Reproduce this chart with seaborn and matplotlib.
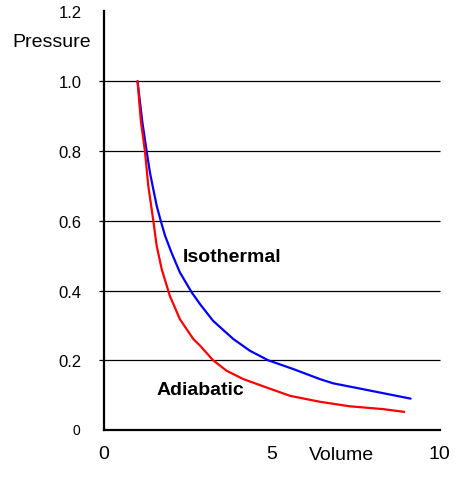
import pandas as pd
import matplotlib
matplotlib.use("Agg")
import matplotlib.pyplot as plt
import seaborn as sns

# Valores
vol_iso = [1.00, 1.14, 1.27, 1.37, 1.47, 1.57, 1.69, 1.82, 2.01, 2.26, 2.61, 2.86, 3.25, 3.85, 4.35,
           4.89, 5.63, 6.43, 6.82, 7.82, 9.13]
pres_iso = [1.00, 0.885, 0.80, 0.738, 0.69, 0.643, 0.60, 0.557, 0.509, 0.452, 0.395, 0.361, 0.313, 0.261, 0.227,
            0.20, 0.175, 0.146, 0.134, 0.115, 0.090]

vol_adi = [1.00, 1.10, 1.22, 1.32, 1.47, 1.57, 1.72, 1.96, 2.26, 2.66, 2.86, 3.25, 3.65, 4.15,
           4.84, 5.54, 6.43, 7.32, 8.31, 8.94]
pres_adi = [1.00, 0.885, 0.80, 0.70, 0.60, 0.528, 0.461, 0.385, 0.318, 0.261, 0.242, 0.20, 0.170, 0.146,
            0.122, 0.098, 0.081, 0.068, 0.060, 0.052]

grid_vals = [0.2, 0.4, 0.6, 0.8, 1.0]
y_ticks = [0.2, 0.4, 0.6, 0.8, 1.0, 1.2]
x_ticks = [0, 5, 10]

df = pd.concat([
    pd.DataFrame({"Volume": vol_iso, "Pressure": pres_iso, "curva": "Isothermal"}),
    pd.DataFrame({"Volume": vol_adi, "Pressure": pres_adi, "curva": "Adiabatic"}),
])

sns.set_style("white")
plt.rcParams['font.family'] = ['Liberation Sans', 'DejaVu Sans']
plt.rcParams['text.color'] = 'black'
plt.rcParams['xtick.color'] = 'black'
plt.rcParams['ytick.color'] = 'black'

fig = plt.figure(figsize=(4.62, 4.85), dpi=100)
ax = fig.add_axes([0.225, 0.1113, 0.727, 0.863])

# lineas horizontales (con su marca a la izquierda)
ax.hlines(grid_vals, -0.15, 10, colors="black", linewidth=0.9, clip_on=False, zorder=1)

sns.lineplot(data=df, x="Volume", y="Pressure", hue="curva",
             palette={"Isothermal": "#0000ff", "Adiabatic": "#ff0000"},
             linewidth=1.6, sort=False, estimator=None, legend=False, ax=ax, zorder=3)

ax.set_xlim(0, 10)
ax.set_ylim(0, 1.2)
ax.set_xticks(x_ticks)
ax.set_xticklabels([str(v) for v in x_ticks], fontsize=14)
ax.set_yticks(y_ticks)
ax.set_yticklabels(["%.1f" % v for v in y_ticks], fontsize=12)
ax.tick_params(axis="both", length=0)
ax.tick_params(axis="y", pad=16)
ax.tick_params(axis="x", pad=11)
ax.set_xlabel("")
ax.set_ylabel("")

for s in ["top", "right"]:
    ax.spines[s].set_visible(False)
for s in ["left", "bottom"]:
    ax.spines[s].set_linewidth(1.6)
    ax.spines[s].set_color("black")

ax.text(2.36, 0.485, "Isothermal", fontsize=14, fontweight="bold", va="baseline")
ax.text(1.57, 0.103, "Adiabatic", fontsize=14, fontweight="bold", va="baseline")
ax.text(-0.83, 0.0, "0", fontsize=10, ha="center", va="center")

fig.text(12 / 462, 1 - 47 / 485, "Pressure", fontsize=14, va="baseline")
fig.text(309 / 462, 1 - 460 / 485, "Volume", fontsize=14, va="baseline")

fig.savefig("out.png", dpi=100)
